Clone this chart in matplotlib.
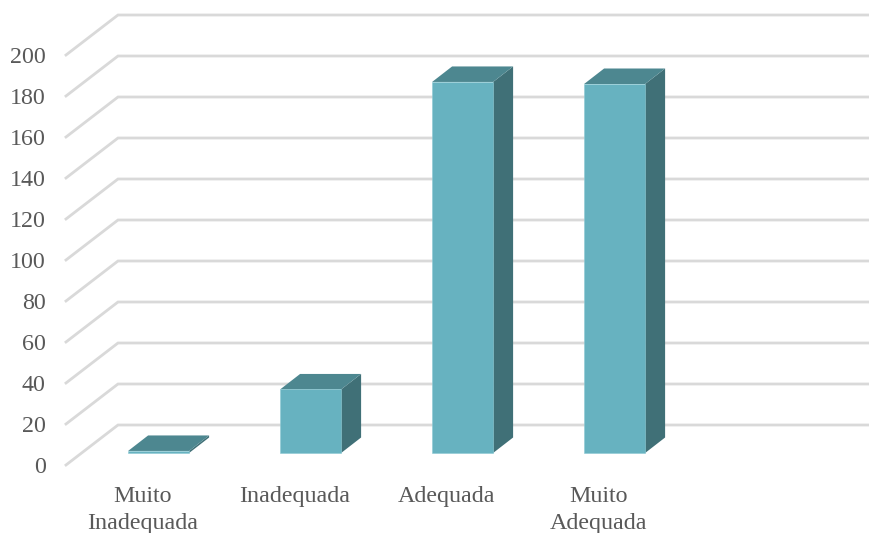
import matplotlib
matplotlib.use("Agg")
import matplotlib.pyplot as plt

categories = ["Muito\nInadequada", "Inadequada", "Adequada", "Muito\nAdequada"]
values = [1, 31, 181, 180]
y_ticks = list(range(0, 201, 20))

W, H = 869, 533
LEFT, BOTTOM, TOP = 66, 465, 55
PX_X = 152.0                # pixels per category
PX_Y = (BOTTOM - TOP) / 200  # pixels per unit

# depth of the walls and of the bars, in data units
wall_dx, wall_dy = 52 / PX_X, 40 / PX_Y
base_dx, base_dy = 15.6 / PX_X, 12 / PX_Y
bar_dx, bar_dy = 20 / PX_X, 15.5 / PX_Y
bar_w = 61 / PX_X

plt.rcParams["font.family"] = ["Liberation Serif", "DejaVu Serif"]

fig = plt.figure(figsize=(W / 100, H / 100), dpi=100)
ax = fig.add_axes([LEFT / W, (H - BOTTOM) / H, (W - LEFT) / W, (BOTTOM - TOP) / H])
x_min = -77 / PX_X
ax.set_xlim(x_min, x_min + (W - LEFT) / PX_X)
ax.set_ylim(0, 200)

# side wall + back wall gridlines
for v in y_ticks:
    ax.plot([x_min, x_min + wall_dx, x_min + 10], [v, v + wall_dy, v + wall_dy],
            color="#D9D9D9", lw=2, clip_on=False, zorder=1, solid_joinstyle="miter")

for i, val in enumerate(values):
    x0 = i + base_dx - bar_w / 2
    x1 = x0 + bar_w
    y0 = base_dy
    y1 = base_dy + val
    ax.fill([x1, x1 + bar_dx, x1 + bar_dx, x1], [y0, y0 + bar_dy, y1 + bar_dy, y1],
            color="#407077", lw=0, zorder=2, clip_on=False)
    ax.fill([x0, x1, x1 + bar_dx, x0 + bar_dx], [y1, y1, y1 + bar_dy, y1 + bar_dy],
            color="#4D8790", lw=0, zorder=2, clip_on=False)
    ax.bar(i + base_dx, val, width=bar_w, bottom=y0, color="#67B2C0",
           edgecolor="#8CC9D4", linewidth=0.4, zorder=3, clip_on=False)

ax.set_xticks(range(len(categories)))
ax.set_xticklabels(categories, linespacing=1.36)
ax.set_yticks(y_ticks)
ax.tick_params(axis="x", length=0, pad=15, labelsize=17.3, labelcolor="#595959")
ax.tick_params(axis="y", length=0, pad=14.5, labelsize=17.3, labelcolor="#595959")
for s in ax.spines.values():
    s.set_visible(False)

fig.savefig("out.png", dpi=100)
